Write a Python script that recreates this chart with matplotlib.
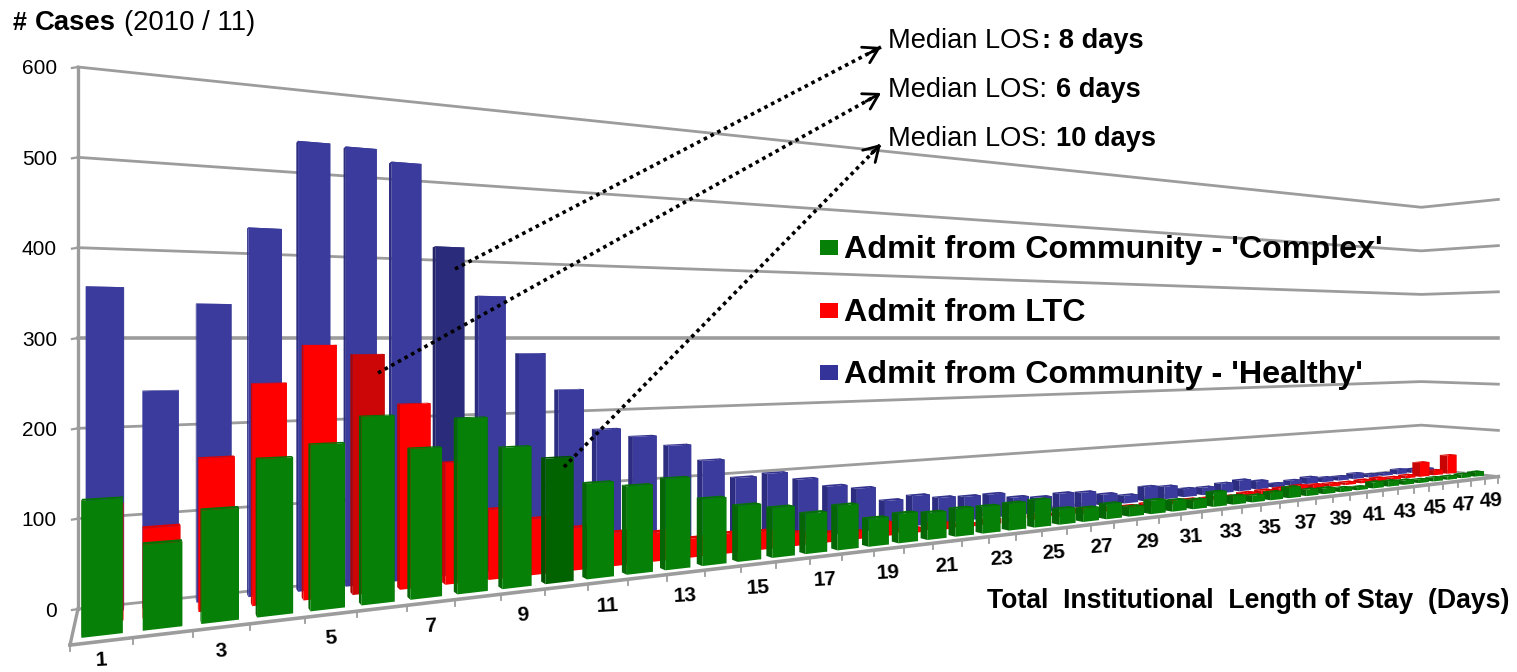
import matplotlib
matplotlib.use("Agg")
import matplotlib.pyplot as plt
from matplotlib.patches import Polygon, Rectangle

plt.rcParams['font.family'] = ['Liberation Sans', 'DejaVu Sans']

# Cases per length of stay, days 1 to 49
days = list(range(1, 50))
healthy = [356, 241, 339, 428, 533, 531, 517, 415, 354, 280, 231, 176, 164, 149, 125, 97, 100,
           88, 74, 67, 44, 48, 41, 39, 39, 30, 26, 29, 27, 20, 14, 26, 23, 15, 14, 18, 21, 16,
           7, 10, 13, 9, 8, 11, 6, 5, 10, 8, 6]
ltc = [123, 96, 168, 249, 292, 281, 221, 148, 87, 71, 55, 44, 39, 26, 28, 26, 19, 14, 11, 20,
       7, 11, 6, 8, 6, 7, 5, 9, 6, 5, 6, 4, 5, 4, 3, 6, 7, 8, 9, 7, 6, 5, 6, 7, 5, 6,
       30, 10, 40]
complex_ = [137, 88, 119, 170, 183, 212, 173, 206, 169, 153, 119, 112, 118, 88, 75, 68, 56, 63,
            40, 43, 40, 42, 41, 42, 43, 25, 22, 25, 16, 23, 19, 16, 26, 15, 12, 14.5, 20, 12,
            11, 8, 6, 12, 11, 9, 7, 7.5, 7, 8, 9.5]

y_ticks = [0, 100, 200, 300, 400, 500, 600]
x_tick_labels = days[::2]

# Bars that hold the median of each series
median_healthy = 8
median_ltc = 6
median_complex = 10

legend_names = ["Admit from Community - 'Complex'", "Admit from LTC", "Admit from Community - 'Healthy'"]
notes = [("Median LOS", ": 8 days"), ("Median LOS:", "6 days"), ("Median LOS:", "10 days")]


def project(d, z, v):
    # perspective view of the chart box: d along the days, z into the page, v cases
    w = 0.977 + 0.02424 * d + 0.13 * z
    x = (68.4 + 64.8 * d + 17.9 * z) / w
    y = 338 - (v - 300) / w
    return x, y


fig = plt.figure(figsize=(15.17, 6.72), dpi=100)
ax = fig.add_axes([0, 0, 1, 1])
ax.set_xlim(0, 1517)
ax.set_ylim(672, 0)
ax.axis('off')

# Walls and floor
grid_color = '#9c9c9c'
wall_end = 49
for v in y_ticks:
    p0 = project(0, 1, v)
    p1 = project(wall_end, 1, v)
    p2 = project(49, 0, v)
    lw = 2.6 if v == 300 else 2
    ax.plot([p0[0], p1[0], p2[0]], [p0[1], p1[1], p2[1]], color=grid_color, lw=lw, zorder=1,
            solid_joinstyle='round')
    ax.plot([p0[0] - 6, p0[0]], [p0[1] + 1, p0[1]], color=grid_color, lw=1.6, zorder=1)
    ax.text(57, p0[1] + 2, str(v), ha='right', va='center', fontsize=15, color='black')

top = project(0, 1, 600)
bottom = project(0, 1, 0)
ax.plot([top[0], bottom[0]], [top[1], bottom[1]], color=grid_color, lw=2.4, zorder=1)
front_left = project(0, 0, 0)
front_right = project(49, 0, 0)
ax.plot([bottom[0], front_left[0]], [bottom[1], front_left[1]], color=grid_color, lw=2.4, zorder=1)
ax.plot([front_left[0], front_right[0]], [front_left[1], front_right[1]], color=grid_color, lw=2.6, zorder=1)
for d in range(50):
    tx, ty = project(d, 0, 0)
    ax.plot([tx, tx], [ty, ty + 6], color=grid_color, lw=1.3, zorder=1)

for day in x_tick_labels:
    lx, ly = project(day - 0.5, 0, 0)
    # keep the first label inside the bottom edge
    ax.text(lx - 1, min(ly + 24, 660), str(day), ha='center', va='center', fontsize=15, fontweight='bold',
            rotation=3, rotation_mode='anchor')


def draw_series(values, z, front, side, cap, highlight, dark, dark_side, order):
    depth = 0.1
    for day, v in sorted(zip(days, values), reverse=True):
        left = day - 1 + 0.16
        right = day - 1 + 0.83
        face, shade = (dark, dark_side) if day == highlight else (front, side)
        ax.add_patch(Polygon([project(right, z, 0), project(right, z + depth, 0),
                              project(right, z + depth, v), project(right, z, v)],
                             facecolor=shade, edgecolor='none', zorder=order))
        ax.add_patch(Polygon([project(left, z, 0), project(left, z + depth, 0),
                              project(left, z + depth, v), project(left, z, v)],
                             facecolor=shade, edgecolor='none', zorder=order))
        ax.add_patch(Polygon([project(left, z, v), project(left, z + depth, v),
                              project(right, z + depth, v), project(right, z, v)],
                             facecolor=cap if day != highlight else shade, edgecolor='none', zorder=order))
        ax.add_patch(Polygon([project(left, z, 0), project(right, z, 0),
                              project(right, z, v), project(left, z, v)],
                             facecolor=face, edgecolor='none', zorder=order))
        order += 0.001


draw_series(healthy, 0.8, '#3b3b9e', '#2c2c80', '#34348f', median_healthy, '#2b2b7c', '#24246a', 3)
draw_series(ltc, 0.5, '#ff0000', '#c80404', '#e00000', median_ltc, '#cc0606', '#a80404', 4)
draw_series(complex_, 0.15, '#068006', '#046604', '#057005', median_complex, '#006300', '#005000', 5)

# Dotted pointers from the median bars to their notes
starts = [(455, 269), (378, 373), (564, 467)]
tips = [(881, 47), (881, 93), (881, 144)]
for (sx, sy), (ex, ey) in zip(starts, tips):
    ax.plot([sx, ex], [sy, ey], color='black', lw=2.6, linestyle=(0, (1, 1.1)), zorder=8)
    ax.annotate('', xy=(ex, ey), xytext=(ex - (ex - sx) * 0.03, ey - (ey - sy) * 0.03),
                arrowprops=dict(arrowstyle='->,head_length=0.7,head_width=0.42', color='black', lw=2,
                                mutation_scale=15, shrinkA=0, shrinkB=0), zorder=8)

# Median notes
note_y = [41, 90, 139]
bold_x = [1042, 1056, 1056]
for (plain, strong), y, bx in zip(notes, note_y, bold_x):
    ax.text(888, y, plain, ha='left', va='center', fontsize=19.6, zorder=9)
    ax.text(bx, y, strong, ha='left', va='center', fontsize=19.6, fontweight='bold', zorder=9)

# Axis titles
ax.text(13, 23, '#', ha='left', va='center', fontsize=18, fontweight='bold')
ax.text(35, 23, 'Cases', ha='left', va='center', fontsize=19.8, fontweight='bold')
ax.text(124, 23, '(2010 / 11)', ha='left', va='center', fontsize=19.8)
ax.text(987, 601, 'Total  Institutional  Length of Stay  (Days)', ha='left', va='center', fontsize=19.2,
        fontweight='bold', zorder=9)

# Legend
legend_colors = ['#068006', '#ff0000', '#333399']
legend_y = [248, 311, 373]
for name, color, y in zip(legend_names, legend_colors, legend_y):
    ax.add_patch(Rectangle((820, y - 8), 18, 15, facecolor=color, edgecolor='none', zorder=9))
    ax.text(844, y + 2, name, ha='left', va='center', fontsize=23.2, fontweight='bold', zorder=9)

fig.savefig('out.png', dpi=100, facecolor='white')
